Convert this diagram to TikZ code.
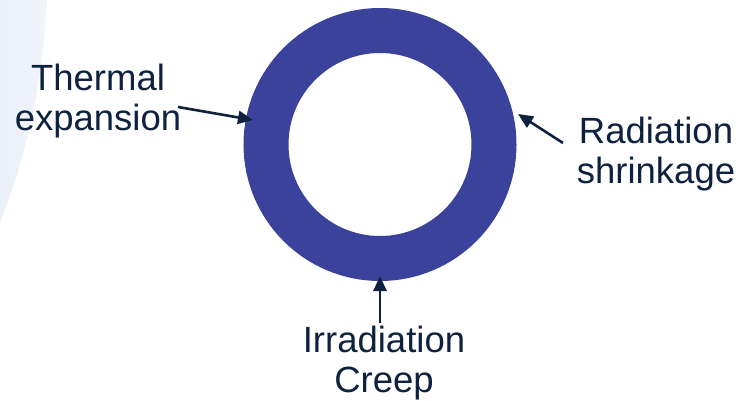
\documentclass[tikz,border=0pt]{standalone}
\usepackage{fontspec}
\setmainfont{Liberation Sans}
\usetikzlibrary{arrows.meta}
\definecolor{ringblue}{HTML}{3A429B}
\definecolor{inkblue}{HTML}{0E2240}
\definecolor{tintA}{HTML}{EBF0F8}
\definecolor{tintB}{HTML}{F1F4FA}
\tikzset{
  label text/.style={text=inkblue, align=center, inner sep=0pt,
    font=\fontsize{36.5}{40}\selectfont},
  pointer/.style={draw=inkblue, line width=2.6pt,
    -{Triangle[length=15pt,width=13pt]}},
  ring/.style={circle, draw=ringblue, line width=45pt,
    minimum size=228pt, inner sep=0pt}
}
\begin{document}
\begin{tikzpicture}[x=1pt,y=-1pt]
  \useasboundingbox (0,0) rectangle (746,400);
  \fill[white] (0,0) rectangle (746,400);
  % soft tinted band on the left edge
  \shade[left color=tintA, right color=tintB]
    (0,0) -- (47,0) .. controls (42,90) and (25,160) .. (0,222) -- cycle;

  % the cladding ring
  \node[ring] (ring) at (380,144.5) {};

  % labels
  \node[label text] (thermal) at (98,101) {Thermal\\expansion};
  \node[label text] (radiation) at (656,154) {Radiation\\shrinkage};
  \node[label text] (creep) at (384,363) {Irradiation\\Creep};

  % arrow ends
  \coordinate (thermalTail) at (178,107);
  \coordinate (thermalTip) at (253,120);
  \coordinate (radiationTail) at (563,143);
  \coordinate (radiationTip) at (518,114);
  \coordinate (creepTail) at (380,323);
  \coordinate (creepTip) at (380,276);

  \draw[pointer] (thermalTail) -- (thermalTip);
  \draw[pointer] (radiationTail) -- (radiationTip);
  \draw[pointer] (creepTail) -- (creepTip);
\end{tikzpicture}
\end{document}
